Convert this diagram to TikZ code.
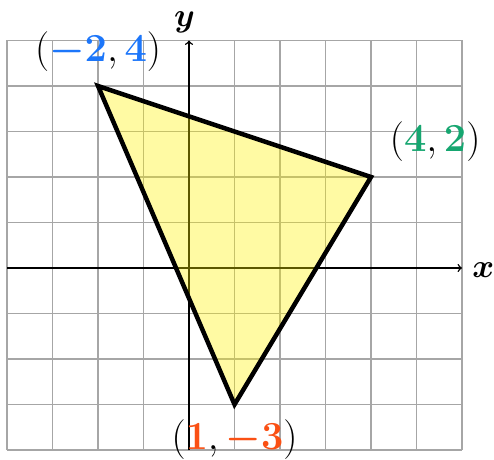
\documentclass[tikz,border=0pt]{standalone}
\usepackage{xcolor}
\usepackage{bm}
\definecolor{ptblue}{RGB}{28,118,250}
\definecolor{ptgreen}{RGB}{22,166,112}
\definecolor{ptred}{RGB}{250,80,20}
\newcommand{\bnum}[2]{\textcolor{#1}{\bm{#2}}}
\begin{document}
\begin{tikzpicture}[x=1cm,y=1cm,
  gridline/.style={draw=black!35, line width=0.7pt},
  axisline/.style={draw=black, line width=0.9pt, ->},
  triedge/.style={draw=black, line width=2.8pt, line join=miter},
  trifill/.style={fill=yellow, fill opacity=0.36},
  ptlabel/.style={font=\Huge, anchor=base, inner sep=0pt},
  axlabel/.style={font=\huge, anchor=base, inner sep=0pt}]
\useasboundingbox (-4.154,-4.198) rectangle (6.703,5.89);
\draw[gridline] (-4,-4) grid (6,5);
\coordinate (xs) at (-4,0);
\coordinate (xe) at (6,0);
\coordinate (ys) at (0,-4);
\coordinate (ye) at (0,5);
\draw[axisline] (xs) -- (xe);
\draw[axisline] (ys) -- (ye);
\node[axlabel] (xlab) at (6.47,-0.2) {$\bm{x}$};
\node[axlabel] (ylab) at (-0.1,5.31) {$\bm{y}$};
\coordinate (A) at (-2,4);
\coordinate (B) at (4,2);
\coordinate (C) at (1,-3);
\path[trifill] (A) -- (B) -- (C) -- cycle;
\draw[triedge] (A) -- (B) -- (C) -- cycle;
\node[ptlabel] (la) at (-2,4.53) {$(\bnum{ptblue}{-2}, \bnum{ptblue}{4})$};
\node[ptlabel] (lb) at (5.41,2.55) {$(\bnum{ptgreen}{4}, \bnum{ptgreen}{2})$};
\node[ptlabel] (lc) at (1,-3.98) {$(\bnum{ptred}{1}, \bnum{ptred}{-3})$};
\end{tikzpicture}
\end{document}
